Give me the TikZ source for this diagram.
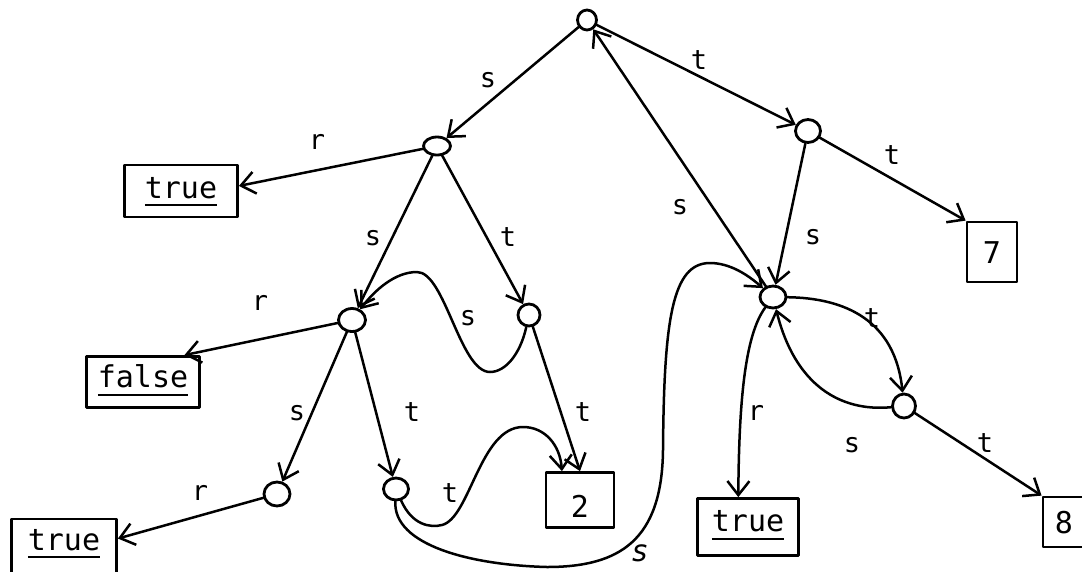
\documentclass[tikz,border=0pt]{standalone}
\usepackage{fontspec}
\setmonofont{DejaVu Sans Mono}
\usetikzlibrary{arrows.meta,shapes.geometric}
% underlined word: rule set a little below the baseline
\newcommand\undl[1]{\vtop{\hbox{#1}\kern6pt\hrule height 1.8pt}}
\begin{document}
\begin{tikzpicture}[x=1pt,y=-1pt,
  line cap=round, line join=round,
  vert/.style={draw, ellipse, line width=2.8pt, minimum width=24pt,
    minimum height=21pt, inner sep=0pt},
  box/.style={draw, rectangle, line width=2.8pt, inner sep=0pt,
    font=\ttfamily\fontsize{30}{30}\selectfont, text height=22pt, text depth=0pt},
  lbl/.style={font=\ttfamily\fontsize{27}{27}\selectfont, inner sep=0pt},
  edge/.style={line width=2.5pt, -{Straight Barb[length=14pt,width=22pt]}}]
\useasboundingbox (0,0) rectangle (1082,571);
\clip (0,0) rectangle (1082,571);

% vertices
\node[vert, minimum width=19pt, minimum height=20pt] (n0) at (587,20) {};
\node[vert, minimum width=27pt, minimum height=18pt] (n1) at (437,146) {};
\node[vert, minimum width=25pt, minimum height=23pt] (n2) at (808,131) {};
\node[vert, minimum width=26pt, minimum height=22pt] (n3) at (773,297) {};
\node[vert, minimum width=27pt, minimum height=23pt] (n4) at (352,320) {};
\node[vert, minimum width=22pt, minimum height=22pt] (n5) at (529,315) {};
\node[vert, minimum width=26pt, minimum height=24pt] (n6) at (277,494) {};
\node[vert, minimum width=25pt, minimum height=22pt] (n7) at (396,489) {};
\node[vert, minimum width=23pt, minimum height=24pt] (n8) at (904,406) {};

% leaves
\node[box, minimum width=113pt, minimum height=52pt, text depth=8pt] (t1) at (181,191) {\undl{true}};
\node[box, minimum width=113pt, minimum height=51pt, text depth=11pt] (fal) at (143,382) {\undl{false}};
\node[box, minimum width=105pt, minimum height=62pt, text depth=22pt] (t2) at (64,550) {\undl{true}};
\node[box, minimum width=68pt, minimum height=55pt, text height=34pt] (b2) at (580,500) {2};
\node[box, minimum width=50pt, minimum height=60pt] (b7) at (992,252) {7};
\node[box, minimum width=101pt, minimum height=57pt, text depth=13pt] (t3) at (748,527) {\undl{true}};
\node[box, minimum width=42pt, minimum height=50pt] (b8) at (1064,522) {8};

% straight edges
\draw[edge] (n0) -- (n1);
\draw[edge] (n0) -- (n2);
\draw[edge] (n3) -- (n0);
\draw[edge] (n2) -- (n3);
\draw[edge] (n2) -- (b7.north west);
\draw[edge] (n1) -- (t1.5);
\draw[edge] (n1) -- (n4);
\draw[edge] (n1) -- (n5);
\draw[edge] (n5) -- (b2.north);
\draw[edge] (n4) -- (fal.33);
\draw[edge] (n4) -- (n6);
\draw[edge] (n4) -- (n7);
\draw[edge] (n6) -- (t2.12);
\draw[edge] (n8) -- (b8.north west);

% curved edges
\draw[edge] (n5) .. controls (520,355) and (505,372) .. (490,372)
  .. controls (460,372) and (445,272) .. (417,272)
  .. controls (395,272) and (375,290) .. (n4);
\draw[edge] (n7) .. controls (412,525) and (430,528) .. (442,525)
  .. controls (470,518) and (480,427) .. (523,427)
  .. controls (545,427) and (560,445) .. (b2.122);
\draw[edge] (n7) .. controls (393,545) and (470,565) .. (547,567)
  .. controls (620,567) and (662,540) .. (663,450)
  .. controls (664,320) and (672,263) .. (710,263)
  .. controls (730,263) and (748,275) .. (n3);
\draw[edge] (n3) .. controls (745,335) and (739,400) .. (t3.108);
\draw[edge] (n3) .. controls (845,298) and (895,320) .. (n8);
\draw[edge] (n8) .. controls (840,412) and (795,385) .. (n3);

% edge labels
\node[lbl] (l01) at (488,80) {s};
\node[lbl] (l02) at (699,60) {t};
\node[lbl] (l30) at (680,207) {s};
\node[lbl] (l23) at (813,237) {s};
\node[lbl] (l27) at (892,155) {t};
\node[lbl] (l1t) at (317,142) {r};
\node[lbl] (l14) at (373,238) {s};
\node[lbl] (l15) at (508,237) {t};
\node[lbl] (l54) at (468,318) {s};
\node[lbl] (l52) at (583,412) {t};
\node[lbl] (l4f) at (260,303) {r};
\node[lbl] (l46) at (297,413) {s};
\node[lbl] (l47) at (412,412) {t};
\node[lbl] (l6t) at (200,493) {r};
\node[lbl] (l72) at (450,493) {t};
\node[lbl, font=\ttfamily\itshape\fontsize{30}{30}\selectfont] (l73) at (640,553) {s};
\node[lbl] (l3t) at (756,413) {r};
\node[lbl] (l38) at (872,318) {t};
\node[lbl] (l83) at (852,445) {s};
\node[lbl] (l88) at (985,443) {t};
\end{tikzpicture}
\end{document}
